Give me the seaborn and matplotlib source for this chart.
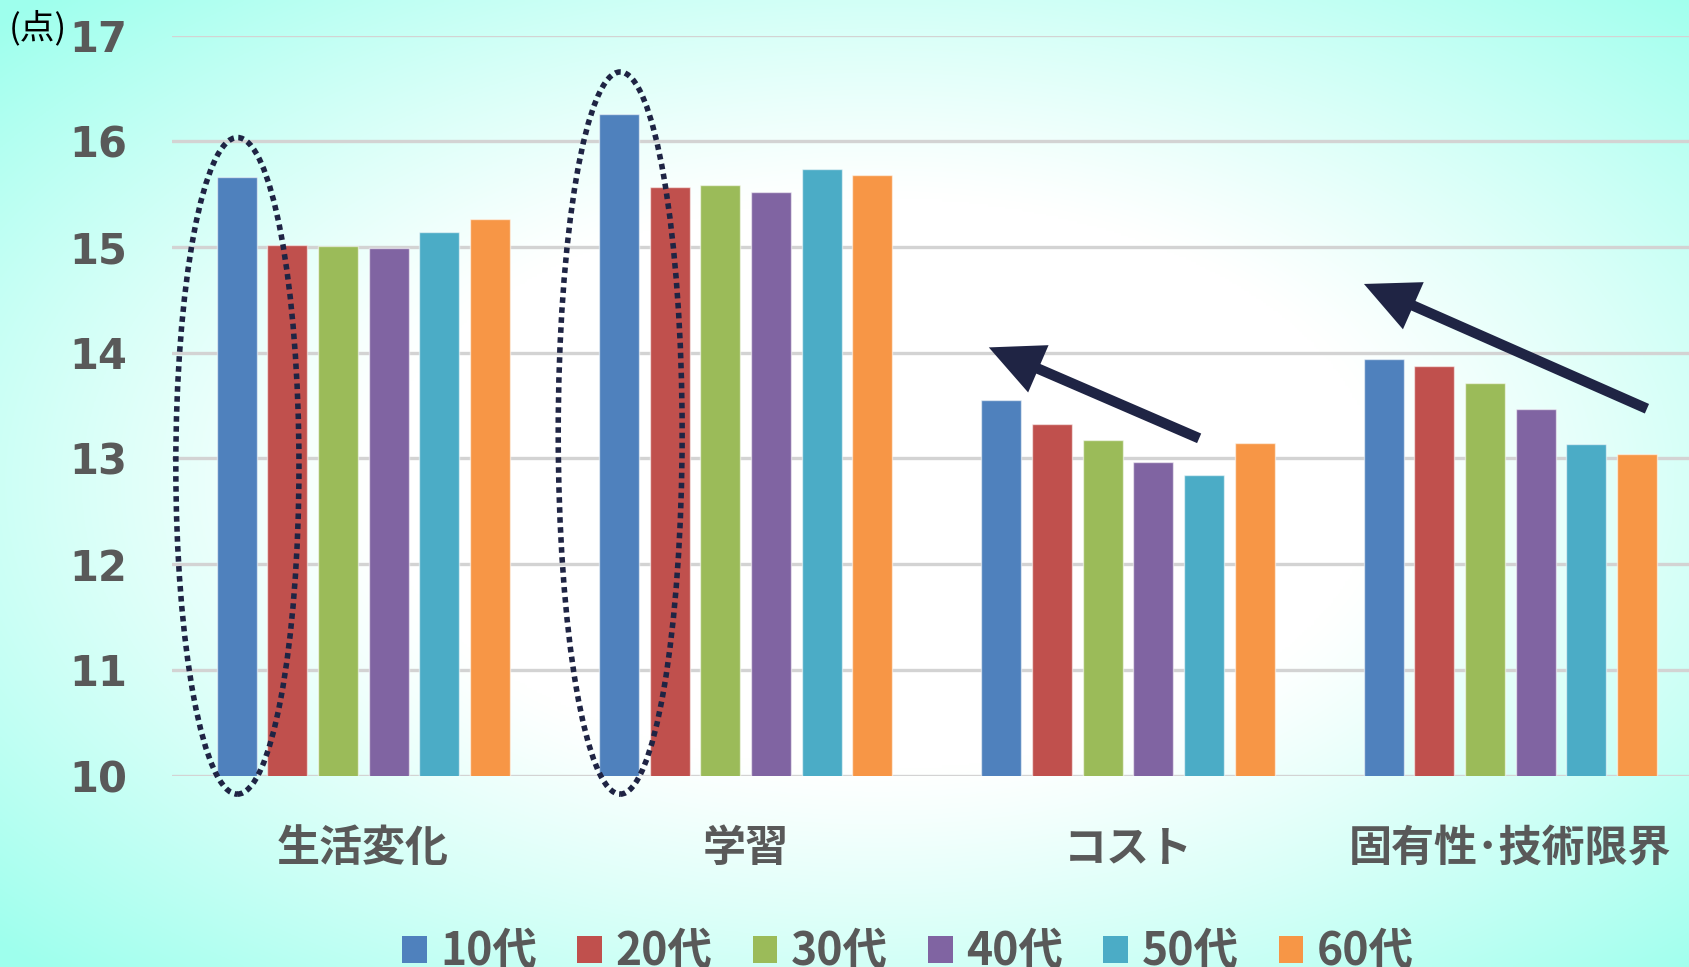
import numpy as np
import pandas as pd
import matplotlib
matplotlib.use("Agg")
import matplotlib.pyplot as plt
from matplotlib.patches import Ellipse, Patch
import seaborn as sns

# 年代別・カテゴリ別の平均点
categories = ["生活変化", "学習", "コスト", "固有性･技術限界"]
ages = ["10代", "20代", "30代", "40代", "50代", "60代"]
score_10s = [15.66, 16.26, 13.55, 13.94]
score_20s = [15.02, 15.57, 13.33, 13.87]
score_30s = [15.01, 15.59, 13.17, 13.71]
score_40s = [14.99, 15.52, 12.97, 13.47]
score_50s = [15.14, 15.74, 12.84, 13.14]
score_60s = [15.26, 15.68, 13.15, 13.04]
yticks = [10, 11, 12, 13, 14, 15, 16, 17]

palette = ["#4F81BD", "#C0504D", "#9BBB59", "#8064A2", "#4BACC6", "#F79646"]
navy = "#1F2444"
text_gray = "#595959"

series = [score_10s, score_20s, score_30s, score_40s, score_50s, score_60s]
df = pd.DataFrame(
    [(c, a, v) for a, vals in zip(ages, series) for c, v in zip(categories, vals)],
    columns=["カテゴリ", "年代", "点"],
)

sns.set_theme(style="white")
plt.rcParams["font.family"] = ["DejaVu Sans", "Noto Sans CJK JP"]

W, H = 1689, 967
fig = plt.figure(figsize=(W / 100, H / 100), dpi=100)

# radial background: white centre fading to aqua at the edges
bg = fig.add_axes([0, 0, 1, 1], zorder=-10)
yy, xx = np.mgrid[0:1:400j, 0:1:700j]
r = np.sqrt(((xx - 0.52) / 0.5) ** 2 + ((yy - 0.5) / 0.5) ** 2) / np.sqrt(2)
t = np.clip((r - 0.42) / 0.58, 0, 1) ** 1.1
white = np.array([1.0, 1.0, 1.0])
aqua = np.array([0.62, 1.0, 0.93])
img = white[None, None, :] * (1 - t[..., None]) + aqua[None, None, :] * t[..., None]
bg.imshow(img, aspect="auto", extent=[0, 1, 0, 1], origin="upper")
bg.set_axis_off()

left, right = 172 / W, 1.0
bottom, top = 1 - 775.6 / H, 1 - 35.5 / H
ax = fig.add_axes([left, bottom, right - left, top - bottom])
ax.set_facecolor("none")

sns.barplot(
    data=df, x="カテゴリ", y="点", hue="年代", hue_order=ages, order=categories,
    palette=palette, width=0.795, gap=0.21, saturation=1, ax=ax,
    edgecolor=(1, 1, 1, 0.55), linewidth=1.0, legend=False, zorder=3,
)

ax.set_ylim(10, 17)
ax.set_xlim(-0.5, 3.467)
ax.set_yticks(yticks)
ax.yaxis.grid(True, color="#D3D3D3", linewidth=2.4, zorder=0)
ax.xaxis.grid(False)
ax.set_axisbelow(True)
for s in ax.spines.values():
    s.set_visible(False)
ax.set_xlabel("")
ax.set_ylabel("")
ax.tick_params(axis="both", length=0)
ax.tick_params(axis="y", pad=32)
ax.tick_params(axis="x", pad=36)
for lab in ax.get_yticklabels():
    lab.set_fontsize(30)
    lab.set_fontweight("bold")
    lab.set_color(text_gray)
    lab.set_family("DejaVu Sans")
for lab in ax.get_xticklabels():
    lab.set_fontsize(31)
    lab.set_fontweight("bold")
    lab.set_color(text_gray)
    lab.set_family(["Noto Sans CJK JP", "DejaVu Sans"])

fig.text(9 / W, 1 - 28 / H, "(点)", fontsize=25, color="black",
         family=["Noto Sans CJK JP"], va="center", ha="left")

# dotted ellipses highlighting the teens' scores
ellipse_centers = [(-0.329, 12.93), (0.672, 13.24)]
ellipse_sizes = [(0.322, 6.21), (0.324, 6.83)]
for (cx, cy), (ew, eh) in zip(ellipse_centers, ellipse_sizes):
    ax.add_patch(Ellipse((cx, cy), ew, eh, fill=False, edgecolor=navy,
                         linewidth=4.0, linestyle=(0, (1.0, 0.8)),
                         clip_on=False, zorder=5))

# trend arrows
arrow_tails = [(2.186, 13.19), (3.357, 13.47)]
arrow_heads = [(1.636, 14.05), (2.617, 14.65)]
for tail, head in zip(arrow_tails, arrow_heads):
    ax.annotate("", xy=head, xytext=tail,
                arrowprops=dict(arrowstyle="-|>,head_length=2.2,head_width=1.05",
                                color=navy, lw=7.5, shrinkA=0, shrinkB=0,
                                joinstyle="miter", capstyle="butt"),
                zorder=6)

handles = [Patch(facecolor=c, edgecolor="none") for c in palette]
leg = fig.legend(handles, ages, loc="center", bbox_to_anchor=(908 / W, 1 - 952 / H),
                 ncol=6, frameon=False, handlelength=0.56, handleheight=0.56,
                 handletextpad=0.3, columnspacing=0.9,
                 prop=dict(family=["Noto Sans CJK JP"], weight="bold", size=32))
for txt in leg.get_texts():
    txt.set_color(text_gray)

fig.savefig("out.png", dpi=100)
